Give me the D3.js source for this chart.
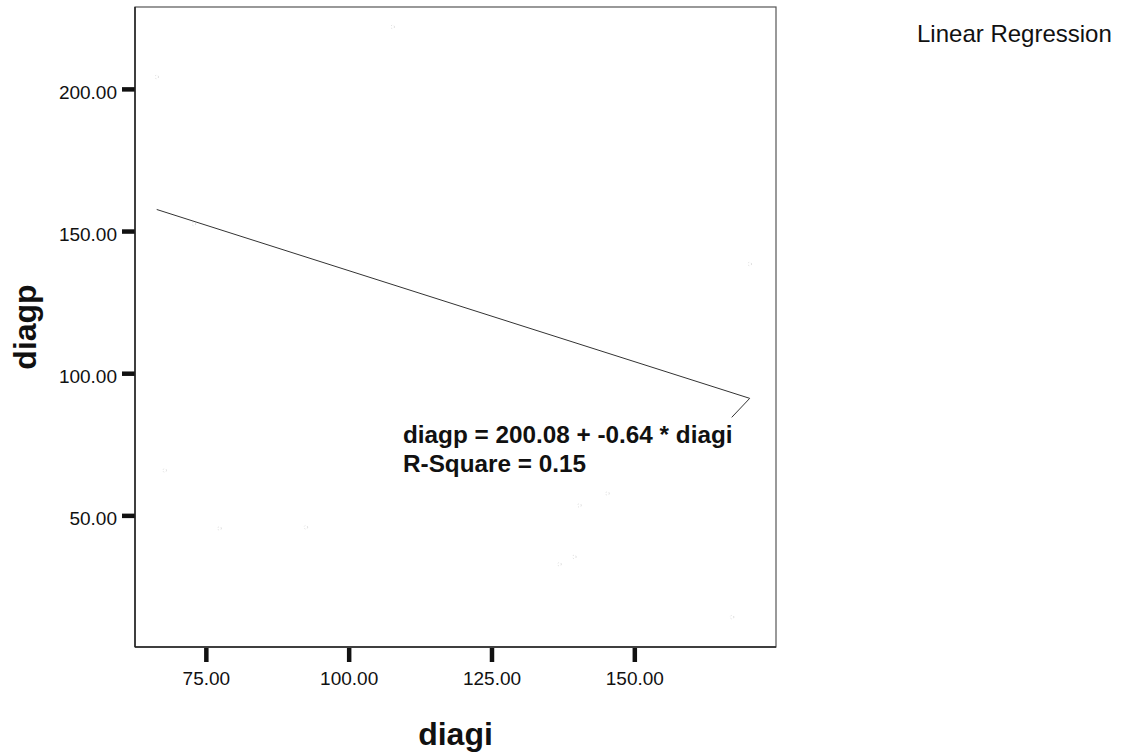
<!DOCTYPE html>
<html>
<head>
<meta charset="utf-8">
<script src="https://cdn.jsdelivr.net/npm/d3@7"></script>
<style>
  html, body { margin: 0; padding: 0; background: #fff; }
  svg { display: block; font-family: "Liberation Sans", Arial, sans-serif; }
</style>
</head>
<body>
<svg id="chart" width="1130" height="754"></svg>
<script>
// Observations: diagi (x) and diagp (y)
const diagi = [66.4, 72.9, 107.7, 67.8, 77.4, 92.5, 140.4, 145.3, 136.9, 139.5, 167.1, 170.2];
const diagp = [204.2, 152.5, 221.8, 65.8, 45.4, 45.8, 53.5, 57.7, 32.8, 35.4, 14.2, 138.4];

// Fitted model
const intercept = 200.08;
const slope = -0.64;
const rSquare = 0.15;

const xTicks = [75, 100, 125, 150];
const yTicks = [50, 100, 150, 200];

const svg = d3.select("#chart");
const plot = { left: 135, right: 776, top: 7, bottom: 647 };

const x = d3.scaleLinear().domain([62.6, 174.8]).range([plot.left, plot.right]);
const y = d3.scaleLinear().domain([3.7, 228.8]).range([plot.bottom, plot.top]);

// Plot frame
svg.append("rect")
  .attr("x", plot.left).attr("y", plot.top)
  .attr("width", plot.right - plot.left).attr("height", plot.bottom - plot.top)
  .attr("fill", "#fff").attr("stroke", "#555").attr("stroke-width", 1.2);

// Axes
const xAxis = d3.axisBottom(x).tickValues(xTicks).tickSizeInner(14).tickSizeOuter(0)
  .tickPadding(10).tickFormat(d3.format(".2f"));
const yAxis = d3.axisLeft(y).tickValues(yTicks).tickSizeInner(13).tickSizeOuter(0)
  .tickPadding(5).tickFormat(d3.format(".2f"));

const gx = svg.append("g").attr("transform", `translate(0,${plot.bottom + 1})`).call(xAxis);
gx.select(".domain").remove();
gx.selectAll(".tick line").attr("stroke", "#111").attr("stroke-width", 4.5);
gx.selectAll(".tick text").attr("font-size", 19).attr("fill", "#111")
  .attr("font-family", "Liberation Sans, Arial, sans-serif");

const gy = svg.append("g").attr("transform", `translate(${plot.left},0)`).call(yAxis);
gy.select(".domain").remove();
gy.selectAll(".tick line").attr("stroke", "#111").attr("stroke-width", 4.5);
gy.selectAll(".tick text").attr("font-size", 19).attr("fill", "#111").attr("dy", "0.5em")
  .attr("font-family", "Liberation Sans, Arial, sans-serif");

// Darker left and bottom edges
svg.append("line").attr("x1", plot.left).attr("x2", plot.left)
  .attr("y1", plot.top).attr("y2", plot.bottom).attr("stroke", "#222").attr("stroke-width", 1.5);
svg.append("line").attr("x1", plot.left).attr("x2", plot.right)
  .attr("y1", plot.bottom).attr("y2", plot.bottom).attr("stroke", "#222").attr("stroke-width", 1.5);

// Observation markers (very light)
svg.append("g").selectAll("path")
  .data(diagi.map((d, i) => [d, diagp[i]]))
  .join("path")
  .attr("d", d3.symbol(d3.symbolCircle, 10))
  .attr("transform", d => `translate(${x(d[0])},${y(d[1])})`)
  .attr("fill", "none")
  .attr("stroke", "#c8c8c8")
  .attr("stroke-width", 0.7)
  .attr("stroke-dasharray", "1,2");

// Regression line over the observed diagi range
const [xMin, xMax] = d3.extent(diagi);
const fit = v => intercept + slope * v;
svg.append("line")
  .attr("x1", x(xMin)).attr("y1", y(fit(xMin)))
  .attr("x2", x(xMax)).attr("y2", y(fit(xMax)))
  .attr("stroke", "#333").attr("stroke-width", 1);

// Leader from the line end to the equation label
svg.append("line")
  .attr("x1", x(xMax)).attr("y1", y(fit(xMax)))
  .attr("x2", x(xMax) - 18).attr("y2", y(fit(xMax)) + 19)
  .attr("stroke", "#333").attr("stroke-width", 1);

// Equation label
const label = svg.append("g").attr("font-weight", "bold").attr("font-size", 24.3).attr("fill", "#111");
label.append("text").attr("x", 403).attr("y", 443)
  .text(`diagp = ${intercept.toFixed(2)} + ${slope.toFixed(2)} * diagi`);
label.append("text").attr("x", 403).attr("y", 472)
  .text(`R-Square = ${rSquare.toFixed(2)}`);

// Axis titles
svg.append("text")
  .attr("x", (plot.left + plot.right) / 2).attr("y", 745)
  .attr("text-anchor", "middle")
  .attr("font-size", 32).attr("font-weight", "bold").attr("fill", "#111")
  .text("diagi");

svg.append("text")
  .attr("transform", `translate(36,${(plot.top + plot.bottom) / 2}) rotate(-90)`)
  .attr("text-anchor", "middle")
  .attr("font-size", 32).attr("font-weight", "bold").attr("fill", "#111")
  .text("diagp");

// Legend
svg.append("text")
  .attr("x", 917).attr("y", 42)
  .attr("font-size", 24).attr("fill", "#111")
  .text("Linear Regression");
</script>
</body>
</html>
